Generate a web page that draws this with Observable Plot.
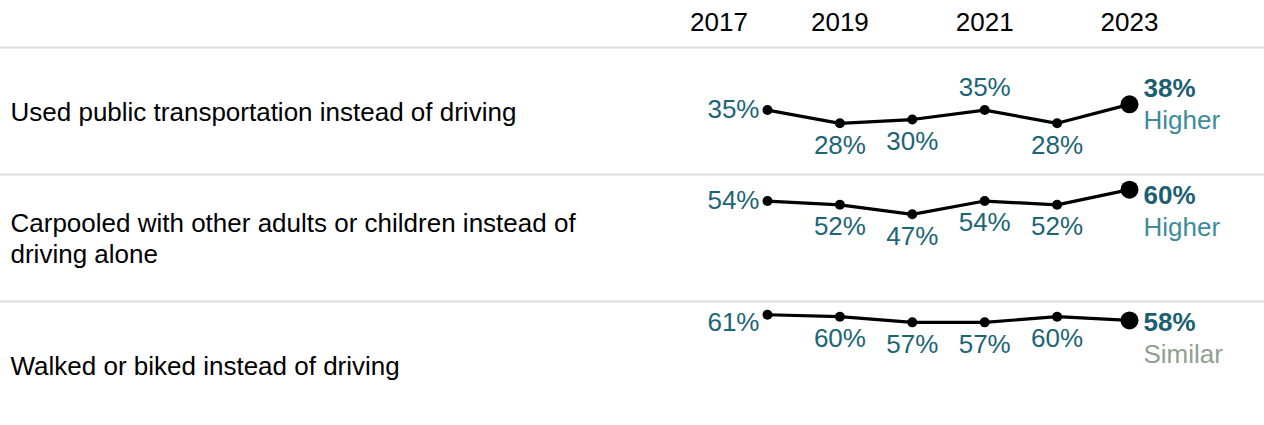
<!DOCTYPE html>
<html>
<head>
<meta charset="utf-8">
<script src="https://cdn.jsdelivr.net/npm/d3@7"></script>
<script src="https://cdn.jsdelivr.net/npm/@observablehq/plot@0.6"></script>
<style>
  html, body { margin: 0; padding: 0; background: #fff; overflow: hidden; }
  #chart svg { display: block; }
</style>
</head>
<body>
<div id="chart"></div>
<script>
// ---- data ----
const years = [2018, 2019, 2020, 2021, 2022, 2023];
const tickYears = [2017, 2019, 2021, 2023];
const categories = [
  "Used public transportation instead of driving",
  "Carpooled with other adults or children instead of driving alone",
  "Walked or biked instead of driving"
];
const categoryLabels = [
  "Used public transportation instead of driving",
  "Carpooled with other adults or children instead of\ndriving alone",
  "Walked or biked instead of driving"
];
const publicTransport = [35, 28, 30, 35, 28, 38];
const carpooled = [54, 52, 47, 54, 52, 60];
const walkedBiked = [61, 60, 57, 57, 60, 58];
const comparison = ["Higher", "Higher", "Similar"];
const labelPlacement = [
  ["left", "below", "below", "above", "below", "end"],
  ["left", "below", "below", "below", "below", "end"],
  ["left", "below", "below", "below", "below", "end"]
];

// ---- layout / style ----
const chartW = 1264, chartH = 428, chartTop = 47;
const rowH = (chartH - chartTop) / categories.length;
const yDomain = [1, 68];
const ppu = rowH / (yDomain[1] - yDomain[0]);
const font = "'Liberation Sans', Arial, Helvetica, sans-serif";
const fs = 26;
const valueColor = "#1c6575";
const boldColor = "#1b6070";
const statusColor = {Higher: "#3d8b9b", Similar: "#909f92"};

const series = [publicTransport, carpooled, walkedBiked];
const rows = [];
categories.forEach((c, i) => {
  years.forEach((yr, j) => {
    rows.push({category: c, year: yr, value: series[i][j], place: labelPlacement[i][j], status: comparison[i]});
  });
});
const rowInfo = categories.map((c, i) => ({category: c, label: categoryLabels[i]}));
const topClamp = yDomain[1] - 21 / ppu;
const lastPts = rows.filter(d => d.place === "end");
const endY = d => Math.min(d.value + 16 / ppu, topClamp);

const chart = Plot.plot({
  width: chartW,
  height: chartH,
  marginTop: chartTop,
  marginBottom: 0,
  marginLeft: 0,
  marginRight: 0,
  style: {fontFamily: font, background: "#fff"},
  x: {domain: [2017, 2023], range: [694.6, 1129], axis: null},
  y: {domain: yDomain, axis: null},
  fy: {domain: categories, padding: 0, axis: null},
  marks: [
    Plot.frame({anchor: "top", stroke: "#dcdcdc", strokeWidth: 2}),
    Plot.axisX({anchor: "top", ticks: tickYears.slice(1), tickSize: 0, tickPadding: 17, tickFormat: d => String(d), fontSize: fs, fill: "#000", label: null}),
    Plot.axisX({anchor: "top", ticks: tickYears.slice(0, 1), tickSize: 0, tickPadding: 17, tickFormat: d => String(d), fontSize: fs, fill: "#000", textAnchor: "start", dx: -5, label: null}),
    Plot.text(rowInfo, {fy: "category", text: "label", frameAnchor: "left", dx: 10, textAnchor: "start", fontSize: fs, fill: "#000", lineHeight: 31 / fs}),
    Plot.line(rows, {x: "year", y: "value", fy: "category", stroke: "#000", strokeWidth: 3.2}),
    Plot.dot(rows.filter(d => d.place !== "end"), {x: "year", y: "value", fy: "category", r: 5, fill: "#000"}),
    Plot.dot(lastPts, {x: "year", y: "value", fy: "category", r: 9, fill: "#000"}),
    Plot.text(rows.filter(d => d.place === "left"), {x: "year", y: d => Math.min(d.value, topClamp), fy: "category", text: d => d.value + "%", textAnchor: "end", dx: -8, fontSize: fs, fill: valueColor}),
    Plot.text(rows.filter(d => d.place === "below"), {x: "year", y: "value", fy: "category", text: d => d.value + "%", dy: 22, fontSize: fs, fill: valueColor}),
    Plot.text(rows.filter(d => d.place === "above"), {x: "year", y: "value", fy: "category", text: d => d.value + "%", dy: -22, fontSize: fs, fill: valueColor}),
    Plot.text(lastPts, {x: "year", y: endY, fy: "category", text: d => d.value + "%", textAnchor: "start", dx: 14, fontSize: fs, fontWeight: "bold", fill: boldColor}),
    Plot.text(lastPts, {x: "year", y: d => endY(d) - 32 / ppu, fy: "category", text: "status", textAnchor: "start", dx: 14, fontSize: fs, fill: d => statusColor[d.status]})
  ]
});
document.getElementById("chart").appendChild(chart);
</script>
</body>
</html>
